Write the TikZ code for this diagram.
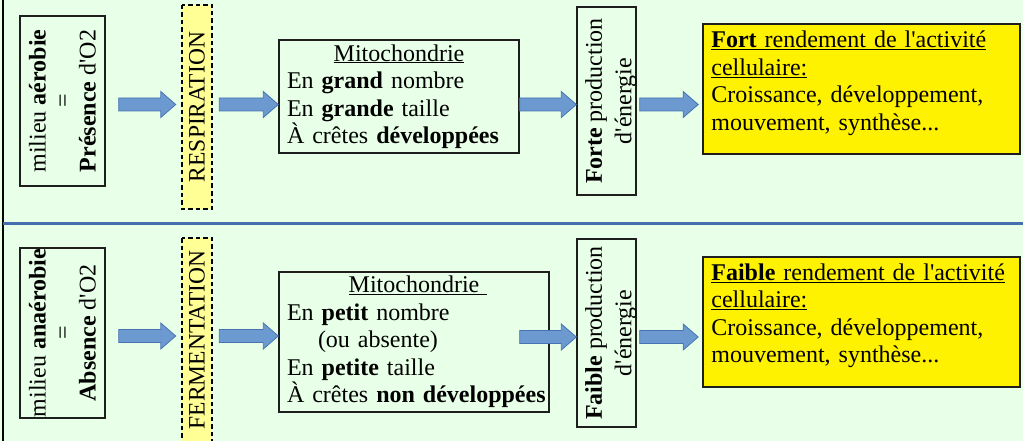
\documentclass[tikz,border=0pt]{standalone}
\usepackage{fontspec}
\setmainfont{Liberation Serif}
\usetikzlibrary{calc}
\definecolor{bg}{RGB}{232,255,232}
\definecolor{boxline}{RGB}{30,30,30}
\definecolor{arrowfill}{RGB}{108,154,208}
\definecolor{arrowline}{RGB}{70,116,178}
\definecolor{sepblue}{RGB}{70,110,175}
\definecolor{paleyellow}{RGB}{255,255,150}
\newcommand\fntA{\fontsize{24}{27.5}\selectfont}
\newcommand\fntB{\fontsize{24}{25}\selectfont}
\newcommand\fntC{\fontsize{24}{29.5}\selectfont}
\newcommand\fntD{\fontsize{23.5}{27}\selectfont}
\newcommand\apo{\textquotesingle}
\tikzset{
  box/.style={draw=boxline, line width=1.4pt, inner sep=0pt},
  vbox/.style={box, rotate=90, align=center, font=\fntB},
  dbox/.style={draw=black, dash pattern=on 4.5pt off 3pt, line width=2.5pt, fill=paleyellow, rotate=90, inner sep=0pt, font=\fntD},
  mbox/.style={box, align=left, font=\fntA},
  ybox/.style={box, fill=yellow, line width=1.6pt},
  vtext/.style={rotate=90, align=center, inner sep=0pt, font=\fntC},
  ytext/.style={align=left, inner sep=0pt, text width=300pt, font=\fntA, anchor=north west},
  barrow/.style n args={3}{draw=arrowline, fill=arrowfill, line width=0.8pt,
    to path={let \p1=(\tikztostart), \p2=(\tikztotarget), \p3=(0,#3) in
      (\x1+#1,\y3+6.5pt) -- (\x2-#2-15pt,\y3+6.5pt) -- (\x2-#2-15pt,\y3+13pt) -- (\x2-#2,\y3)
      -- (\x2-#2-15pt,\y3-13pt) -- (\x2-#2-15pt,\y3-6.5pt) -- (\x1+#1,\y3-6.5pt) -- cycle}}
}
\begin{document}
\begin{tikzpicture}[x=1pt,y=-1pt]
\fill[bg] (0,0) rectangle (1023,441);
\useasboundingbox (0,0) rectangle (1023,441);
\clip (0,0) rectangle (1023,441);
\draw[black, line width=1.5pt] (3,0) -- (3,441);
\draw[sepblue, line width=3pt] (3,223) -- (1023,223);

% top row
\node[vbox, minimum width=170pt, minimum height=85pt] (b1) at (62.5,101) {milieu \textbf{aérobie}\\=\\\textbf{Présence} d\apo O2};
\node[dbox, minimum width=204pt, minimum height=30pt] (r1) at (197,107) {RESPIRATION};
\node[mbox, minimum width=240pt, minimum height=113pt, text width=224pt] (m1) at (399,96.5)
  {\makebox[224pt]{\underline{Mitochondrie}}\\En \textbf{grand} nombre\\En \textbf{grande} taille\\\mbox{À crêtes \textbf{développées}}};
\node[box, minimum width=59pt, minimum height=188pt] (f1) at (606.5,101) {};
\node[vtext] (f1t) at (611,101) {\textbf{Forte} production\\d\apo énergie};
\node[ybox, minimum width=317pt, minimum height=130pt] (y1) at (861.5,89) {};
\node[ytext] (y1t) at ($(y1.north west)+(9,7.5)$)
  {\underline{\textbf{Fort} rendement de l\apo activité}\\\underline{cellulaire:}\\Croissance, développement,\\mouvement, synthèse...};

% bottom row
\node[vbox, minimum width=170pt, minimum height=85pt] (b2) at (62.5,333) {milieu \textbf{anaérobie}\\=\\\textbf{Absence} d\apo O2};
\node[dbox, minimum width=204pt, minimum height=30pt] (r2) at (197,340) {FERMENTATION};
\node[mbox, minimum width=270pt, minimum height=140pt, text width=254pt] (m2) at (414,342)
  {\makebox[254pt]{\underline{Mitochondrie}\rlap{\underline{\hphantom{\ }}}}\\En \textbf{petit} nombre\\\hspace*{31pt}(ou absente)\\En \textbf{petite} taille\\\mbox{À crêtes \textbf{non développées}}};
\node[box, minimum width=59pt, minimum height=188pt] (f2) at (606.5,333) {};
\node[vtext] (f2t) at (611,333) {\textbf{Faible} production\\d\apo énergie};
\node[ybox, minimum width=317pt, minimum height=130pt] (y2) at (861.5,322) {};
\node[ytext] (y2t) at ($(y2.north west)+(9,7)$)
  {\underline{\textbf{Faible} rendement de l\apo activité}\\\underline{cellulaire:}\\Croissance, développement,\\mouvement, synthèse...};

% arrows (rotated nodes: south = right side, north = left side)
\draw[barrow={13pt}{5pt}{104.5}] (b1.south) to (r1.north);
\draw[barrow={6pt}{0pt}{104.5}] (r1.south) to (m1.west);
\draw[barrow={0pt}{0pt}{104.5}] (m1.east) to (f1.west);
\draw[barrow={3pt}{4pt}{104.5}] (f1.east) to (y1.west);
\draw[barrow={13pt}{5pt}{336}] (b2.south) to (r2.north);
\draw[barrow={6pt}{0pt}{336}] (r2.south) to (m2.west);
\draw[barrow={-30pt}{0pt}{337}] (m2.east) to (f2.west);
\draw[barrow={3pt}{4pt}{337}] (f2.east) to (y2.west);
\end{tikzpicture}
\end{document}
